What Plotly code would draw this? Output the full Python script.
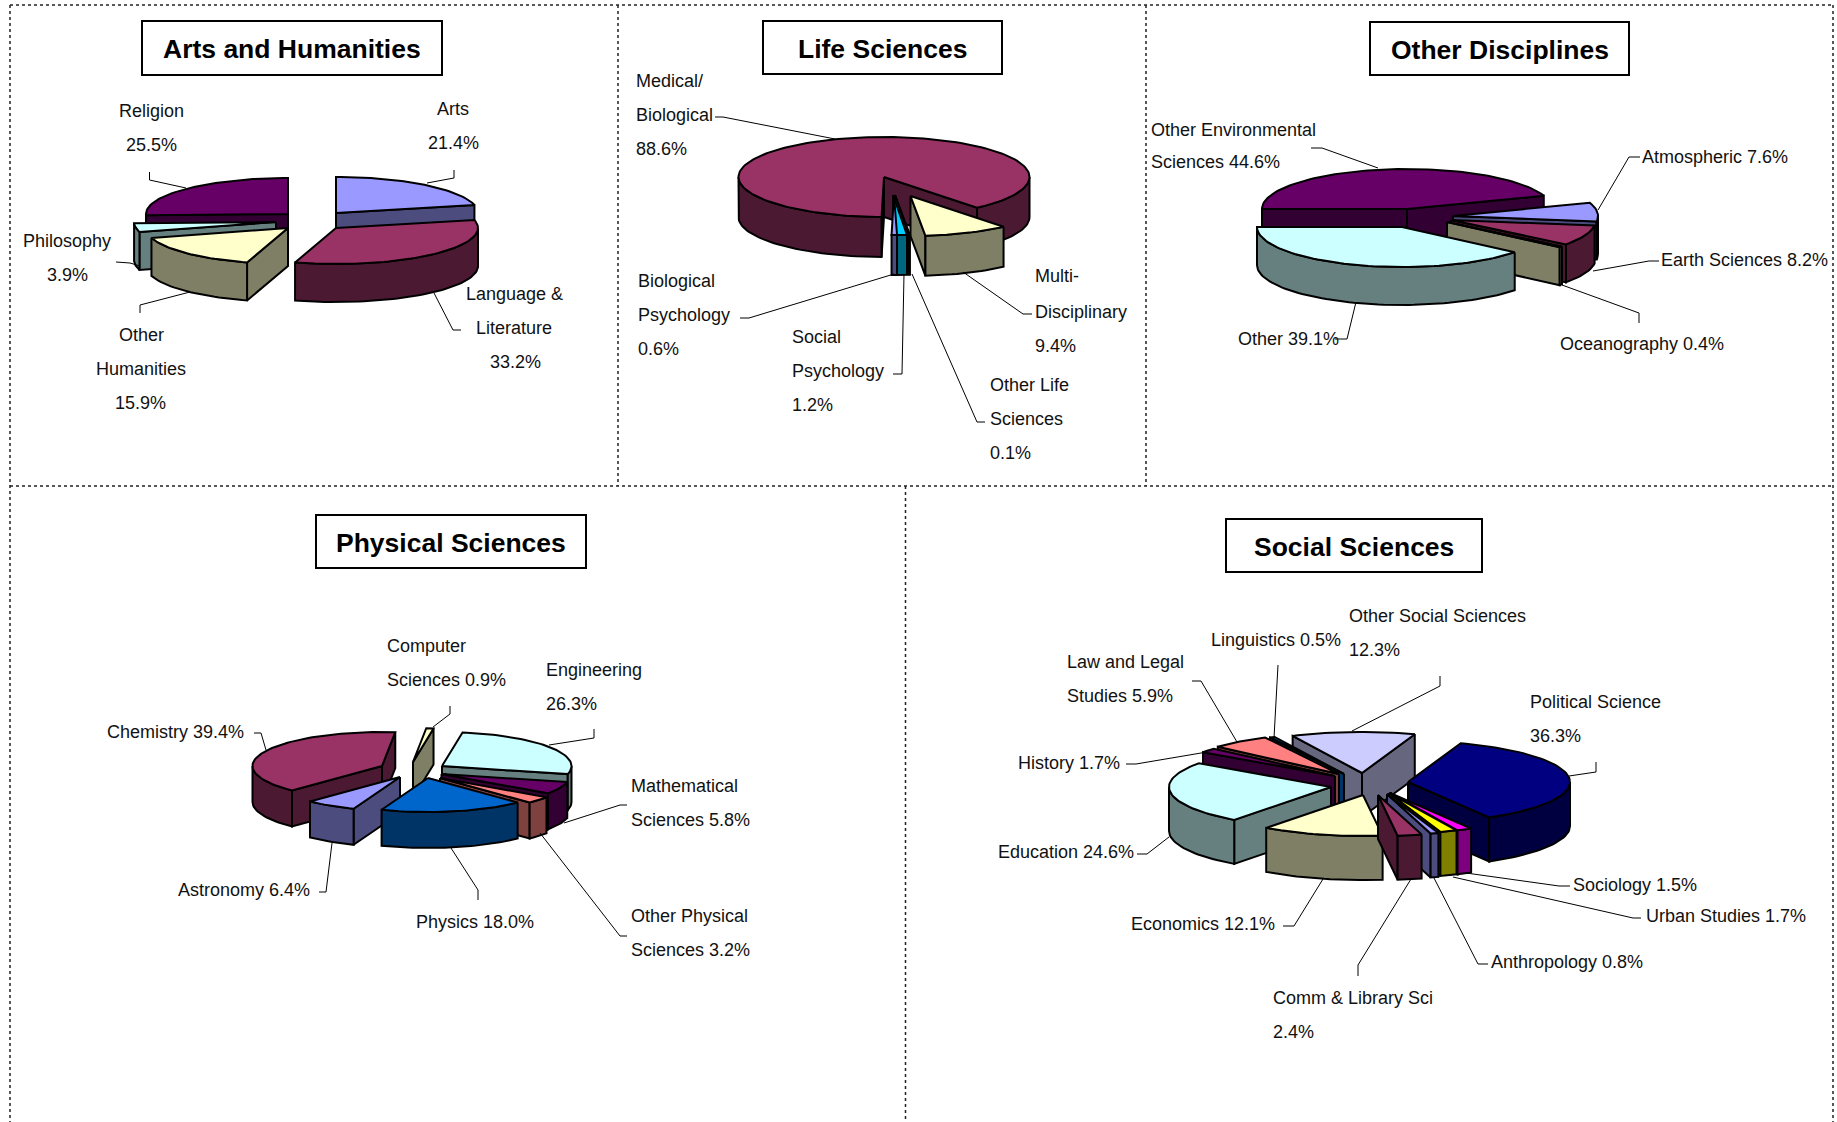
import math
import plotly.graph_objects as go

FONT = "Liberation Sans, Arial, sans-serif"

# ---------- data ----------
arts_categories = ["Arts", "Language & Literature", "Other Humanities", "Philosophy", "Religion"]
arts_values = [21.4, 33.2, 15.9, 3.9, 25.5]
life_categories = ["Biological Psychology", "Medical/Biological", "Multi-Disciplinary", "Other Life Sciences", "Social Psychology"]
life_values = [0.6, 88.6, 9.4, 0.1, 1.2]
other_categories = ["Atmospheric", "Earth Sciences", "Oceanography", "Other", "Other Environmental Sciences"]
other_values = [7.6, 8.2, 0.4, 39.1, 44.6]
physical_categories = ["Astronomy", "Chemistry", "Computer Sciences", "Engineering", "Mathematical Sciences", "Other Physical Sciences", "Physics"]
physical_values = [6.4, 39.4, 0.9, 26.3, 5.8, 3.2, 18.0]
social_categories = ["Anthropology", "Comm & Library Sci", "Economics", "Education", "History", "Law and Legal Studies",
                     "Linguistics", "Other Social Sciences", "Political Science", "Sociology", "Urban Studies"]
social_values = [0.8, 2.4, 12.1, 24.6, 1.7, 5.9, 0.5, 12.3, 36.3, 1.5, 1.7]

# ---------- colours ----------
P = ["#9999FF", "#993366", "#FFFFCC", "#CCFFFF", "#660066", "#FF8080", "#0066CC", "#CCCCFF", "#000080", "#FF00FF", "#FFFF00"]
life_colors = ["#9999FF", "#993366", "#FFFFCC", "#CCFFFF", "#00CCFF"]


def darker(hex_color):
    r, g, b = (int(hex_color[i:i + 2], 16) for i in (1, 3, 5))
    return f"rgb({r // 2},{g // 2},{b // 2})"


# ---------- layout of each exploded 3-D pie ----------
charts = [
    dict(cats=arts_categories, vals=arts_values, colors=P, start=0, c=(312, 220), rx=142, ry=36, depth=38,
         pull_x=[24, 24, -24, -36, -24], pull_y=[-7, 8, 8, 2, -6]),
    dict(cats=life_categories, vals=life_values, colors=life_colors, start=178.8, c=(885, 185), rx=145.5, ry=40, depth=40,
         pull_x=[9, -1, 25.5, 10, 8], pull_y=[10, -8, 11, 10, 10]),
    dict(cats=other_categories, vals=other_values, colors=P, start=70.6, c=(1430, 215), rx=145, ry=40, depth=38,
         pull_x=[23, 21, 17, -28, -23], pull_y=[1, 5, 7, 12, -6]),
    dict(cats=physical_categories, vals=physical_values, colors=P, start=201, c=(410, 770), rx=129.5, ry=34, depth=36,
         pull_x=[-10, -28, 3, 32, 31.5, 30, 18], pull_y=[7, -4, -8, -4, 4, 8, 8]),
    dict(cats=social_categories, vals=social_values, colors=P, start=161.5, c=(1365, 780), rx=162, ry=41, depth=44,
         pull_x=[22, 13, -2, -34, -30, -26, -21, -3, 43, 25, 24], pull_y=[14, 15, 15, 7, -4, -6, -6, -7, 2, 13, 13]),
]

titles = [
    ("Arts and Humanities", (142, 21, 442, 75)),
    ("Life Sciences", (763, 21, 1002, 74)),
    ("Other Disciplines", (1370, 22, 1629, 75)),
    ("Physical Sciences", (316, 515, 586, 568)),
    ("Social Sciences", (1226, 519, 1482, 572)),
]

S = 1837 / 1568
# text, anchor, x, y (in the 1568-wide picture)
labels = [
    ("Religion", "center", 129, 95), ("25.5%", "center", 129, 124),
    ("Arts", "center", 387, 93), ("21.4%", "center", 387, 122),
    ("Philosophy", "center", 57, 206), ("3.9%", "center", 58, 235),
    ("Other", "center", 121, 286), ("Humanities", "center", 120, 315), ("15.9%", "center", 120, 344),
    ("Language &", "center", 439, 251), ("Literature", "center", 439, 280), ("33.2%", "center", 440, 309),
    ("Medical/", "left", 541, 69), ("Biological", "left", 541, 98), ("88.6%", "left", 541, 127),
    ("Biological", "left", 543, 240), ("Psychology", "left", 543, 269), ("0.6%", "left", 543, 298),
    ("Social", "left", 674, 288), ("Psychology", "left", 674, 317), ("1.2%", "left", 674, 346),
    ("Multi-", "left", 882, 236), ("Disciplinary", "left", 882, 266), ("9.4%", "left", 882, 295),
    ("Other Life", "left", 843, 329), ("Sciences", "left", 843, 358), ("0.1%", "left", 843, 387),
    ("Other Environmental", "left", 981, 111), ("Sciences 44.6%", "left", 981, 138),
    ("Atmospheric 7.6%", "left", 1400, 134), ("Earth Sciences 8.2%", "left", 1416, 222),
    ("Oceanography 0.4%", "left", 1330, 294), ("Other 39.1%", "left", 1055, 289),
    ("Computer", "left", 329, 551), ("Sciences 0.9%", "left", 329, 580),
    ("Engineering", "left", 464, 572), ("26.3%", "left", 464, 601),
    ("Chemistry 39.4%", "left", 90, 625),
    ("Mathematical", "left", 537, 671), ("Sciences 5.8%", "left", 537, 700),
    ("Astronomy 6.4%", "left", 150, 760), ("Physics 18.0%", "left", 353, 787),
    ("Other Physical", "left", 537, 782), ("Sciences 3.2%", "left", 537, 811),
    ("Other Social Sciences", "left", 1150, 526), ("12.3%", "left", 1150, 555),
    ("Linguistics 0.5%", "left", 1032, 546),
    ("Law and Legal", "left", 909, 565), ("Studies 5.9%", "left", 909, 594),
    ("Political Science", "left", 1304, 599), ("36.3%", "left", 1304, 628),
    ("History 1.7%", "left", 867, 651), ("Education 24.6%", "left", 850, 727),
    ("Economics 12.1%", "left", 964, 789), ("Sociology 1.5%", "left", 1341, 755),
    ("Urban Studies 1.7%", "left", 1403, 782), ("Anthropology 0.8%", "left", 1271, 821),
    ("Comm & Library Sci", "left", 1085, 852), ("2.4%", "left", 1085, 881),
]

leaders = [
    [(149.5, 172), (149.5, 180), (186, 188)], [(454, 170), (454, 178), (427, 183)],
    [(116, 262), (130, 263), (140, 266)], [(140, 313), (140, 305), (190, 292)],
    [(461, 330), (453, 330), (434, 293)],
    [(715, 117), (723, 117), (835, 139)], [(740, 318), (749, 318), (894, 274)],
    [(893, 374), (902, 374), (904, 274)], [(985, 422), (977, 422), (912, 274)],
    [(1032, 314), (1023, 314), (963, 272)],
    [(1311, 148), (1322, 148), (1378, 168)], [(1640, 157), (1629, 157), (1598, 210)],
    [(1659, 261), (1649, 261), (1593, 271)], [(1639, 323), (1639, 313), (1562, 285)],
    [(1335, 339), (1347, 339), (1356, 302)],
    [(450, 706), (450, 714), (433, 727)], [(594, 729), (594, 738), (549, 745)],
    [(254, 733), (261, 733), (266, 750)], [(627, 805), (620, 805), (564, 823)],
    [(627, 936), (620, 936), (540, 833)], [(478, 900), (478, 890), (451, 848)],
    [(319, 892), (326, 892), (332, 843)],
    [(1440, 676), (1440, 686), (1352, 731)], [(1278, 665), (1274, 738)],
    [(1192, 681), (1201, 681), (1237, 742)], [(1596, 762), (1596, 772), (1569, 776)],
    [(1126, 764), (1136, 764), (1207, 752)], [(1137, 854), (1147, 854), (1169, 837)],
    [(1283, 926), (1294, 926), (1323, 879)], [(1570, 886), (1559, 886), (1466, 873)],
    [(1641, 918), (1633, 918), (1453, 877)], [(1488, 964), (1478, 964), (1434, 878)],
    [(1358, 976), (1358, 965), (1411, 879)],
]

# dotted panel frame: x0, y0, x1, y1
frame = [
    (10, 5, 1833, 5), (10, 486, 1833, 486), (10, 5, 10, 1122), (1833, 5, 1833, 1122),
    (618, 5, 618, 486), (1146, 5, 1146, 486), (905.5, 486, 905.5, 1122),
]

fig = go.Figure()


def poly(xs, ys, fill, name):
    fig.add_trace(go.Scatter(x=xs, y=ys, mode="lines", fill="toself", fillcolor=fill, name=name,
                             line=dict(color="black", width=2), hoverinfo="name", showlegend=False))


def rim(ch, ax, ay, deg):
    t = math.radians(deg)
    return ax + ch["rx"] * math.sin(t), ay - ch["ry"] * math.cos(t)


def arc(a, b):
    n = max(2, int(abs(b - a) / 2) + 1)
    return [a + (b - a) * i / (n - 1) for i in range(n)]


for ch in charts:
    total = sum(ch["vals"])
    angle = ch["start"]
    slices = []
    for i, v in enumerate(ch["vals"]):
        span = v / total * 360
        slices.append((angle, angle + span, i))
        angle += span
    slices.sort(key=lambda s: -math.cos(math.radians((s[0] + s[1]) / 2)))
    for a, b, i in slices:
        ax = ch["c"][0] + ch["pull_x"][i]
        ay = ch["c"][1] + ch["pull_y"][i]
        d = ch["depth"]
        top = ch["colors"][i]
        side = darker(top)
        name = ch["cats"][i]
        # visible cut faces
        for edge, visible in ((a, math.sin(math.radians(a)) < 0), (b, math.sin(math.radians(b)) > 0)):
            if visible:
                rx_, ry_ = rim(ch, ax, ay, edge)
                poly([ax, rx_, rx_, ax, ax], [ay, ry_, ry_ + d, ay + d, ay], side, name)
        # visible outer wall (front half of the rim)
        for lo, hi in ((90, 270), (450, 630), (-270, -90)):
            p, q = max(a, lo), min(b, hi)
            if q > p:
                pts = [rim(ch, ax, ay, t) for t in arc(p, q)]
                xs = [x for x, _ in pts] + [x for x, _ in reversed(pts)] + [pts[0][0]]
                ys = [y for _, y in pts] + [y + d for _, y in reversed(pts)] + [pts[0][1]]
                poly(xs, ys, side, name)
        # top face
        pts = [rim(ch, ax, ay, t) for t in arc(a, b)]
        poly([ax] + [x for x, _ in pts] + [ax], [ay] + [y for _, y in pts] + [ay], top, name)

for pts in leaders:
    fig.add_trace(go.Scatter(x=[p[0] for p in pts], y=[p[1] for p in pts], mode="lines",
                             line=dict(color="black", width=1), hoverinfo="skip", showlegend=False))

shapes = [dict(type="line", x0=x0, y0=y0, x1=x1, y1=y1, xref="x", yref="y",
               line=dict(color="#222222", width=1.5, dash="dot")) for x0, y0, x1, y1 in frame]
annotations = []
for text, (x0, y0, x1, y1) in titles:
    shapes.append(dict(type="rect", x0=x0, y0=y0, x1=x1, y1=y1, xref="x", yref="y",
                       line=dict(color="black", width=2), fillcolor="white"))
    annotations.append(dict(text=f"<b>{text}</b>", x=(x0 + x1) / 2, y=(y0 + y1) / 2 + 1, xref="x", yref="y",
                            showarrow=False, xanchor="center", yanchor="middle",
                            font=dict(family=FONT, size=26.5, color="black")))
for text, anchor, x, y in labels:
    annotations.append(dict(text=text, x=x * S, y=y * S, xref="x", yref="y", showarrow=False,
                            xanchor=anchor, yanchor="middle", font=dict(family=FONT, size=18, color="#111111")))

fig.update_layout(
    width=1837, height=1122, autosize=False, margin=dict(l=0, r=0, t=0, b=0),
    paper_bgcolor="white", plot_bgcolor="white", showlegend=False,
    xaxis=dict(range=[0, 1837], visible=False, fixedrange=True),
    yaxis=dict(range=[1122, 0], visible=False, fixedrange=True),
    shapes=shapes, annotations=annotations,
)
fig.write_html("out.html", config=dict(displayModeBar=False),
               post_script="document.body.style.margin='0';document.body.style.overflow='hidden';")
